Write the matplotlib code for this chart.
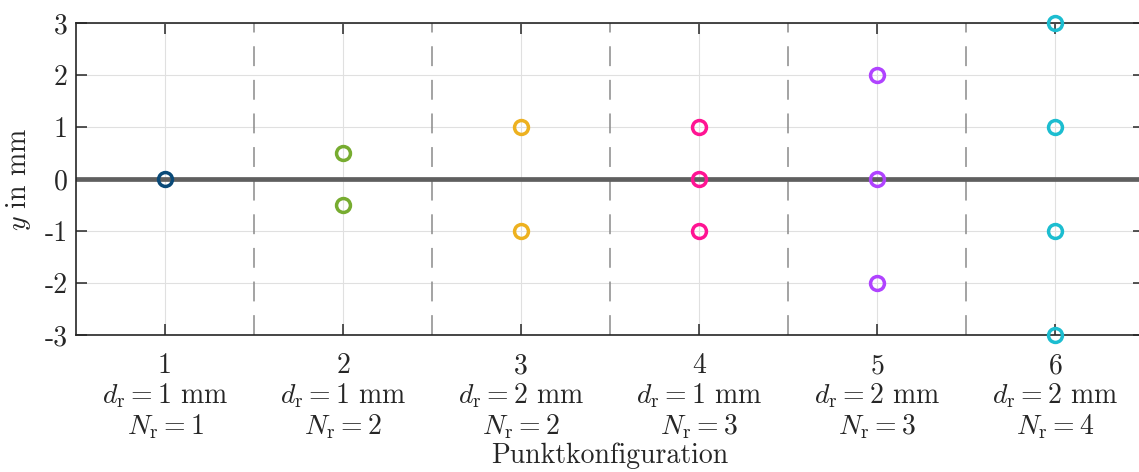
import matplotlib
matplotlib.use("Agg")
import matplotlib.pyplot as plt

plt.rcParams.update({
    "font.family": "serif",
    "font.serif": ["cmr10"],
    "mathtext.fontset": "cm",
    "axes.unicode_minus": False,
    "axes.formatter.use_mathtext": True,
})

# Point configurations: radial spacing d_r (mm), number of points N_r, point positions y (mm)
configs = [1, 2, 3, 4, 5, 6]
d_r = [1, 1, 2, 1, 2, 2]
n_r = [1, 2, 2, 3, 3, 4]
y_points = [
    [0],
    [0.5, -0.5],
    [1, -1],
    [1, 0, -1],
    [2, 0, -2],
    [3, 1, -1, -3],
]
colors = ["#0a4a78", "#77ac30", "#edb120", "#ff1493", "#b043ff", "#1cbdd0"]
y_ticks = [-3, -2, -1, 0, 1, 2, 3]

FS = 20
TXT = "#262626"

fig = plt.figure(figsize=(11.39, 4.72), dpi=100)
ax = fig.add_axes([0.0667, 0.2903, 0.938, 0.661])

ax.set_xlim(0.5, 6.5)
ax.set_ylim(-3, 3)

ax.grid(True, color="#e0e0e0", linewidth=0.8, zorder=0)
ax.set_axisbelow(True)

# group separators
for k in range(len(configs) - 1):
    ax.axvline(configs[k] + 0.5, color="#8a8a8a", linewidth=1.1,
               dashes=(13, 9), dash_capstyle="butt", zorder=1)

# reference line y = 0
ax.axhline(0, color="#5f5f5f", linewidth=3.4, zorder=2)

for c, ys, col in zip(configs, y_points, colors):
    ax.plot([c] * len(ys), ys, linestyle="none", marker="o", markersize=10,
            markerfacecolor="none", markeredgecolor=col, markeredgewidth=2.5,
            clip_on=False, zorder=5)

ax.set_yticks(y_ticks)
ax.set_yticklabels([str(v) for v in y_ticks])
ax.set_xticks(configs)
ax.set_xticklabels([
    f"{c}\n$d_\\mathrm{{r}} = {d}$ mm\n$N_\\mathrm{{r}} = {n}$"
    for c, d, n in zip(configs, d_r, n_r)
], linespacing=1.1)

ax.tick_params(direction="in", length=8, width=1.1, colors=TXT,
               labelcolor=TXT, labelsize=FS, top=True, right=True)
ax.tick_params(axis="x", pad=13)
ax.tick_params(axis="y", pad=6)
for s in ax.spines.values():
    s.set_linewidth(1.2)
    s.set_color(TXT)

ax.set_xlabel("Punktkonfiguration", fontsize=FS, color=TXT, labelpad=1)
ax.set_ylabel("$y$ in mm", fontsize=FS, color=TXT, labelpad=8)

fig.savefig("out.png", dpi=100)
